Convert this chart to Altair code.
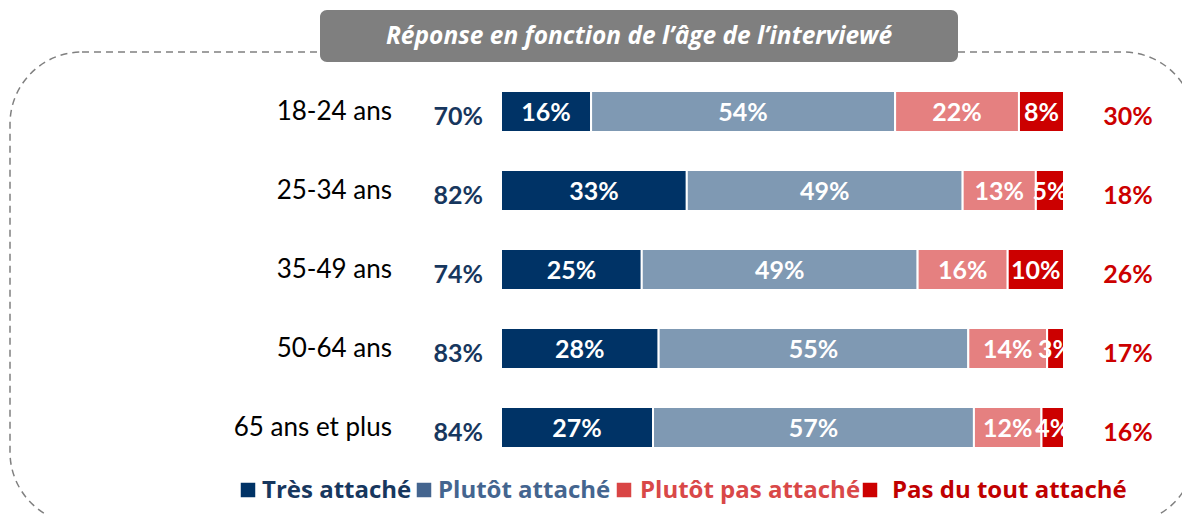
import altair as alt
import pandas as pd

# ---------------- data ----------------
ages = ["18-24 ans", "25-34 ans", "35-49 ans", "50-64 ans", "65 ans et plus"]
categories = ["Très attaché", "Plutôt attaché", "Plutôt pas attaché", "Pas du tout attaché"]
tres_attache = [16, 33, 25, 28, 27]
plutot_attache = [54, 49, 49, 55, 57]
plutot_pas_attache = [22, 13, 16, 14, 12]
pas_du_tout_attache = [8, 5, 10, 3, 4]
total_attache = [70, 82, 74, 83, 84]
total_pas_attache = [30, 18, 26, 17, 16]
title_text = "Réponse en fonction de l’âge de l’interviewé"

# ---------------- styles ----------------
bar_colors = ["#003366", "#7F99B3", "#E58080", "#CC0000"]
legend_colors = ["#003366", "#44658F", "#D94545", "#CC0000"]
legend_text_colors = ["#17375E", "#44658F", "#D94848", "#C00000"]
navy_total = "#17375E"
red_total = "#CC0000"

series = [tres_attache, plutot_attache, plutot_pas_attache, pas_du_tout_attache]
rows = []
for i, a in enumerate(ages):
    for j, c in enumerate(categories):
        rows.append({"age": a, "cat": c, "order": j, "value": series[j][i]})
df = pd.DataFrame(rows)
tot = pd.DataFrame({"age": ages, "att": total_attache, "pas": total_pas_attache})

W, H = 1174, 506
xs = alt.Scale(domain=[0, 100], range=[493, 1056])
ys = alt.Scale(domain=ages, range=[64, 459], paddingInner=0.48, paddingOuter=0.24)

base = (
    alt.Chart(df)
    .transform_stack(stack="value", groupby=["age"], as_=["x0", "x1"],
                     sort=[alt.SortField("order", order="ascending")])
    .transform_calculate(mid="(datum.x0 + datum.x1) / 2", label="datum.value + '%'")
)

bars = base.mark_bar(stroke="white", strokeWidth=2).encode(
    x=alt.X("x0:Q", scale=xs, axis=None),
    x2="x1:Q",
    y=alt.Y("age:N", scale=ys, axis=None),
    color=alt.Color("cat:N", scale=alt.Scale(domain=categories, range=bar_colors), legend=None),
)

bar_text = base.mark_text(font="Lato", fontWeight="bold", fontSize=25, color="white", dy=1).encode(
    x=alt.X("mid:Q", scale=xs, axis=None),
    y=alt.Y("age:N", scale=ys, axis=None),
    text="label:N",
)

age_labels = alt.Chart(tot).mark_text(align="right", font="Lato", fontSize=26, color="black").encode(
    x=alt.value(384),
    y=alt.Y("age:N", scale=ys, axis=None),
    text="age:N",
)

left_tot = alt.Chart(tot).transform_calculate(lab="datum.att + '%'").mark_text(
    align="right", font="Lato", fontWeight="bold", fontSize=25, color=navy_total, dy=5
).encode(x=alt.value(475), y=alt.Y("age:N", scale=ys, axis=None), text="lab:N")

right_tot = alt.Chart(tot).transform_calculate(lab="datum.pas + '%'").mark_text(
    align="center", font="Lato", fontWeight="bold", fontSize=25, color=red_total, dy=5
).encode(x=alt.value(1120), y=alt.Y("age:N", scale=ys, axis=None), text="lab:N")

one = pd.DataFrame({"t": [title_text]})

border = alt.Chart(one).mark_rect(
    cornerRadius=72, fill="transparent", stroke="#808080", strokeDash=[7, 5], strokeWidth=1.5
).encode(x=alt.value(2), x2=alt.value(1187), y=alt.value(44), y2=alt.value(516))

title_box = alt.Chart(one).mark_rect(cornerRadius=7, color="#7F7F7F").encode(
    x=alt.value(312), x2=alt.value(950), y=alt.value(2), y2=alt.value(54)
)

title = alt.Chart(one).mark_text(
    font="Open Sans", fontStyle="italic", fontWeight="bold", fontSize=24.5, color="white"
).encode(x=alt.value(631), y=alt.value(29), text="t:N")

leg_sq_x = [240, 416, 616, 862]
leg_txt_x = [254, 430, 632, 884]
legend_layers = []
for i, c in enumerate(categories):
    ld = pd.DataFrame({"cat": [c]})
    legend_layers.append(
        alt.Chart(ld).mark_square(size=210, color=legend_colors[i], opacity=1).encode(
            x=alt.value(leg_sq_x[i]), y=alt.value(482)
        )
    )
    legend_layers.append(
        alt.Chart(ld).mark_text(
            align="left", font="Open Sans", fontWeight="bold", fontSize=24, color=legend_text_colors[i]
        ).encode(x=alt.value(leg_txt_x[i]), y=alt.value(483), text="cat:N")
    )

chart = (
    alt.layer(border, title_box, title, bars, bar_text, age_labels, left_tot, right_tot, *legend_layers)
    .properties(width=W, height=H, autosize=alt.AutoSizeParams(type="none"), padding=0)
    .configure_view(stroke=None)
)

chart.save("out.html", embed_options={"renderer": "svg", "actions": False})
